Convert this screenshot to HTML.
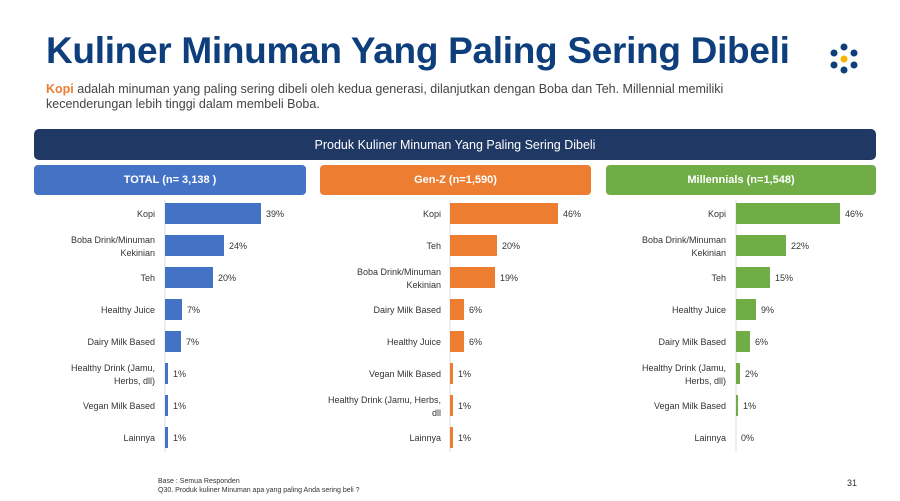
<!DOCTYPE html>
<html><head><meta charset="utf-8"><style>
*{margin:0;padding:0;box-sizing:border-box}
body{width:900px;height:501px;background:#fff;position:relative;overflow:hidden;font-family:"Liberation Sans",sans-serif}
.a{position:absolute}
h1{position:absolute;left:46px;top:30px;font-size:37px;font-weight:bold;color:#0e3f7c;letter-spacing:-0.3px;white-space:nowrap}
.sub{left:46px;top:82px;font-size:12.5px;color:#444;line-height:15px;width:765px}
.hd{height:30px;border-radius:4px;color:#fff;font-size:11px;font-weight:bold;display:flex;align-items:center;justify-content:center;top:165px}
</style></head><body>
<h1>Kuliner Minuman Yang Paling Sering Dibeli</h1>
<svg class="a" style="left:0;top:0" width="900" height="100">
<g fill="#0e3f7c"><circle cx="844" cy="47" r="3.5"/><circle cx="834" cy="53" r="3.5"/><circle cx="854" cy="53" r="3.5"/><circle cx="834" cy="65" r="3.5"/><circle cx="854" cy="65" r="3.5"/><circle cx="844" cy="70" r="3.5"/></g>
<circle cx="844" cy="59" r="3.5" fill="#f4b400"/></svg>
<div class="a sub"><b style="color:#ed7d31">Kopi</b> adalah minuman yang paling sering dibeli oleh kedua generasi, dilanjutkan dengan Boba dan Teh. Millennial memiliki kecenderungan lebih tinggi dalam membeli Boba.</div>
<div class="a" style="left:34px;top:129px;width:842px;height:31px;background:#1f3864;border-radius:5px;color:#fff;font-size:12.5px;display:flex;align-items:center;justify-content:center">Produk Kuliner Minuman Yang Paling Sering Dibeli</div>
<div class="a hd" style="left:34px;width:272px;background:#4472c4">TOTAL (n= 3,138 )</div>
<div class="a hd" style="left:320px;width:271px;background:#ed7d31">Gen-Z (n=1,590)</div>
<div class="a hd" style="left:606px;width:270px;background:#70ad47">Millennials (n=1,548)</div>
<svg class="a" style="left:0;top:0" width="900" height="501" font-family="Liberation Sans, sans-serif" font-size="9" fill="#333">
<g id="p1">
<line x1="165" y1="200" x2="165" y2="452" stroke="#ddd"/>
<g fill="#4472c4">
<rect x="165" y="203" width="96" height="21"/><rect x="165" y="235" width="59" height="21"/><rect x="165" y="267" width="48" height="21"/><rect x="165" y="299" width="17" height="21"/><rect x="165" y="331" width="16" height="21"/><rect x="165" y="363" width="3" height="21"/><rect x="165" y="395" width="3" height="21"/><rect x="165" y="427" width="3" height="21"/></g>
<g text-anchor="end">
<text x="155" y="217">Kopi</text><text x="155" y="243">Boba Drink/Minuman</text><text x="155" y="256">Kekinian</text><text x="155" y="281">Teh</text><text x="155" y="313">Healthy Juice</text><text x="155" y="345">Dairy Milk Based</text><text x="155" y="371">Healthy Drink (Jamu,</text><text x="155" y="384">Herbs, dll)</text><text x="155" y="409">Vegan Milk Based</text><text x="155" y="441">Lainnya</text></g>
<g><text x="266" y="217">39%</text><text x="229" y="249">24%</text><text x="218" y="281">20%</text><text x="187" y="313">7%</text><text x="186" y="345">7%</text><text x="173" y="377">1%</text><text x="173" y="409">1%</text><text x="173" y="441">1%</text></g>
</g>
<g>
<line x1="450" y1="200" x2="450" y2="452" stroke="#ddd"/>
<g fill="#ed7d31">
<rect x="450" y="203" width="108" height="21"/><rect x="450" y="235" width="47" height="21"/><rect x="450" y="267" width="45" height="21"/><rect x="450" y="299" width="14" height="21"/><rect x="450" y="331" width="14" height="21"/><rect x="450" y="363" width="3" height="21"/><rect x="450" y="395" width="3" height="21"/><rect x="450" y="427" width="3" height="21"/></g>
<g text-anchor="end">
<text x="441" y="217">Kopi</text><text x="441" y="249">Teh</text><text x="441" y="275">Boba Drink/Minuman</text><text x="441" y="288">Kekinian</text><text x="441" y="313">Dairy Milk Based</text><text x="441" y="345">Healthy Juice</text><text x="441" y="377">Vegan Milk Based</text><text x="441" y="403">Healthy Drink (Jamu, Herbs,</text><text x="441" y="416">dll</text><text x="441" y="441">Lainnya</text></g>
<g><text x="563" y="217">46%</text><text x="502" y="249">20%</text><text x="500" y="281">19%</text><text x="469" y="313">6%</text><text x="469" y="345">6%</text><text x="458" y="377">1%</text><text x="458" y="409">1%</text><text x="458" y="441">1%</text></g>
</g>
<g>
<line x1="736" y1="200" x2="736" y2="452" stroke="#ddd"/>
<g fill="#70ad47">
<rect x="736" y="203" width="104" height="21"/><rect x="736" y="235" width="50" height="21"/><rect x="736" y="267" width="34" height="21"/><rect x="736" y="299" width="20" height="21"/><rect x="736" y="331" width="14" height="21"/><rect x="736" y="363" width="4" height="21"/><rect x="736" y="395" width="2" height="21"/></g>
<g text-anchor="end">
<text x="726" y="217">Kopi</text><text x="726" y="243">Boba Drink/Minuman</text><text x="726" y="256">Kekinian</text><text x="726" y="281">Teh</text><text x="726" y="313">Healthy Juice</text><text x="726" y="345">Dairy Milk Based</text><text x="726" y="371">Healthy Drink (Jamu,</text><text x="726" y="384">Herbs, dll)</text><text x="726" y="409">Vegan Milk Based</text><text x="726" y="441">Lainnya</text></g>
<g><text x="845" y="217">46%</text><text x="791" y="249">22%</text><text x="775" y="281">15%</text><text x="761" y="313">9%</text><text x="755" y="345">6%</text><text x="745" y="377">2%</text><text x="743" y="409">1%</text><text x="741" y="441">0%</text></g>
</g>
<g font-size="7"><text x="158" y="483">Base : Semua Responden</text><text x="158" y="492">Q30. Produk kuliner Minuman apa yang paling Anda sering beli ?</text></g>
<text x="847" y="486" font-size="9">31</text>
</svg>
</body></html>
